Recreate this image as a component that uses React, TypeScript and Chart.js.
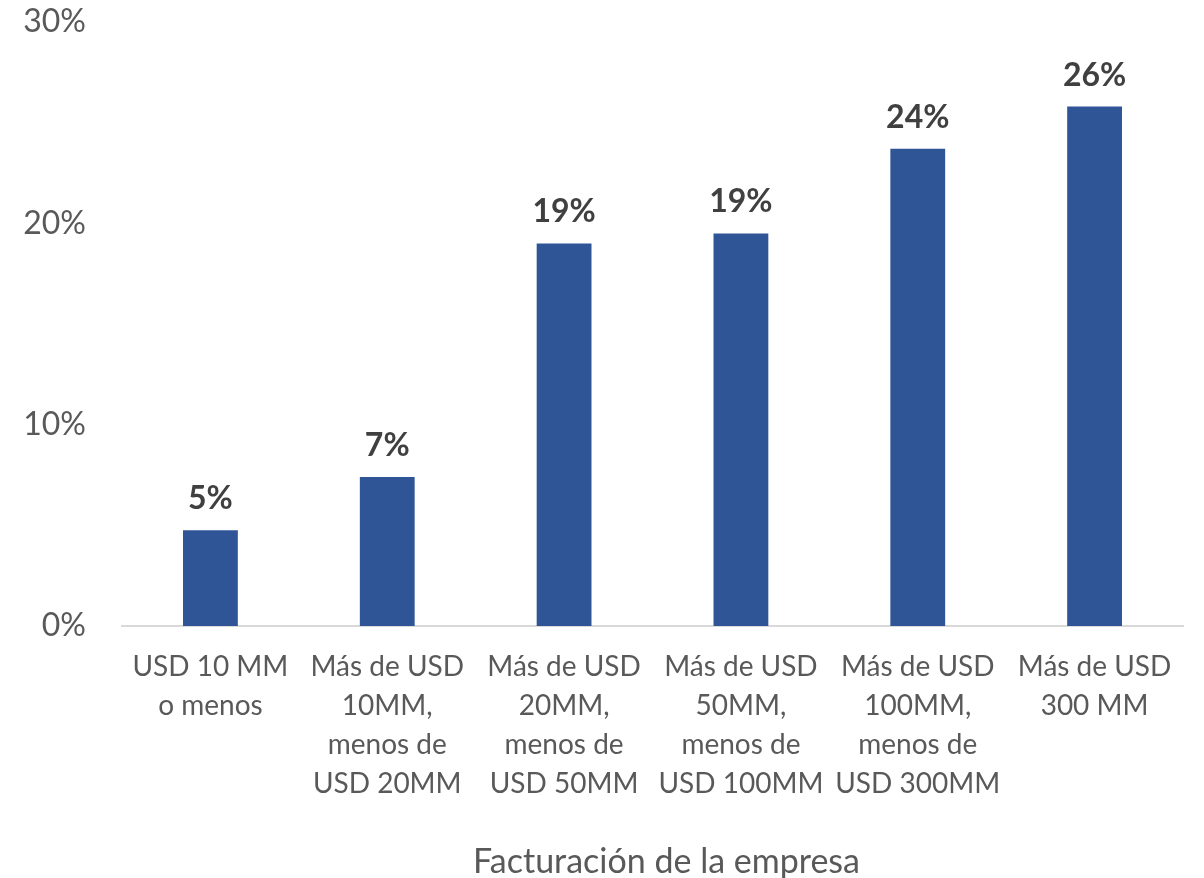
import React, { useEffect, useRef } from "react";
import { Chart, registerables } from "chart.js";

Chart.register(...registerables);

const categories: string[][] = [
  ["USD 10 MM", "o menos"],
  ["Más de USD", "10MM,", "menos de", "USD 20MM"],
  ["Más de USD", "20MM,", "menos de", "USD 50MM"],
  ["Más de USD", "50MM,", "menos de", "USD 100MM"],
  ["Más de USD", "100MM,", "menos de", "USD 300MM"],
  ["Más de USD", "300 MM"],
];
const values: number[] = [4.75, 7.4, 19.0, 19.5, 23.7, 25.8];
const dataLabels: string[] = ["5%", "7%", "19%", "19%", "24%", "26%"];
const yTicks: number[] = [0, 10, 20, 30];
const axisTitle = "Facturación de la empresa";

const FONT = "Lato, 'Open Sans', sans-serif";

const labelPlugin = {
  id: "barLabels",
  afterDatasetsDraw(chart: any) {
    const ctx = chart.ctx;
    const meta = chart.getDatasetMeta(0);
    ctx.save();
    ctx.font = `bold 32px ${FONT}`;
    ctx.fillStyle = "#404040";
    ctx.textAlign = "center";
    ctx.textBaseline = "alphabetic";
    meta.data.forEach((bar: any, i: number) => {
      ctx.fillText(dataLabels[i], bar.x, bar.y - 21);
    });
    ctx.restore();
  },
};

const titlePlugin = {
  id: "xTitle",
  afterDraw(chart: any) {
    const ctx = chart.ctx;
    const area = chart.chartArea;
    ctx.save();
    ctx.font = `34px ${FONT}`;
    ctx.fillStyle = "#595959";
    ctx.textAlign = "center";
    ctx.textBaseline = "alphabetic";
    ctx.fillText(axisTitle, (area.left + area.right) / 2 + 14, chart.height - 5);
    ctx.restore();
  },
};

export default function App() {
  const ref = useRef<HTMLCanvasElement>(null);
  useEffect(() => {
    if (!ref.current) return;
    const chart = new Chart(ref.current, {
      type: "bar",
      data: {
        labels: categories,
        datasets: [
          {
            data: values,
            backgroundColor: "#2F5597",
            borderWidth: 0,
            barPercentage: 0.31,
            categoryPercentage: 1,
          },
        ],
      },
      options: {
        animation: false,
        responsive: false,
        maintainAspectRatio: false,
        layout: { padding: { top: 22, right: 21, left: 0, bottom: 0 } },
        plugins: {
          legend: { display: false },
          tooltip: { enabled: false },
        },
        scales: {
          x: {
            grid: { display: false, drawTicks: false },
            border: { display: true, color: "#D9D9D9", width: 2 },
            ticks: {
              color: "#595959",
              font: { family: FONT, size: 28, lineHeight: 1.39 },
              padding: 22,
              maxRotation: 0,
              autoSkip: false,
            },
            afterFit(scale: any) {
              scale.height = 878 - 626;
              scale.paddingLeft = 0;
              scale.paddingRight = 0;
            },
          },
          y: {
            min: 0,
            max: 30,
            afterBuildTicks(scale: any) {
              scale.ticks = yTicks.map((v) => ({ value: v }));
            },
            grid: { display: false, drawTicks: false },
            border: { display: false },
            ticks: {
              color: "#595959",
              font: { family: FONT, size: 32 },
              padding: 36,
              callback: (v: any) => `${v}%`,
            },
            afterFit(scale: any) {
              scale.width = 122;
              scale.paddingTop = 0;
              scale.paddingBottom = 0;
            },
          },
        },
      },
      plugins: [labelPlugin, titlePlugin],
    });
    return () => chart.destroy();
  }, []);
  return (
    <div style={{ position: "absolute", left: 0, top: 0, width: 1204, height: 878, background: "#fff" }}>
      <canvas ref={ref} width={1204} height={878} style={{ width: 1204, height: 878 }} />
    </div>
  );
}
